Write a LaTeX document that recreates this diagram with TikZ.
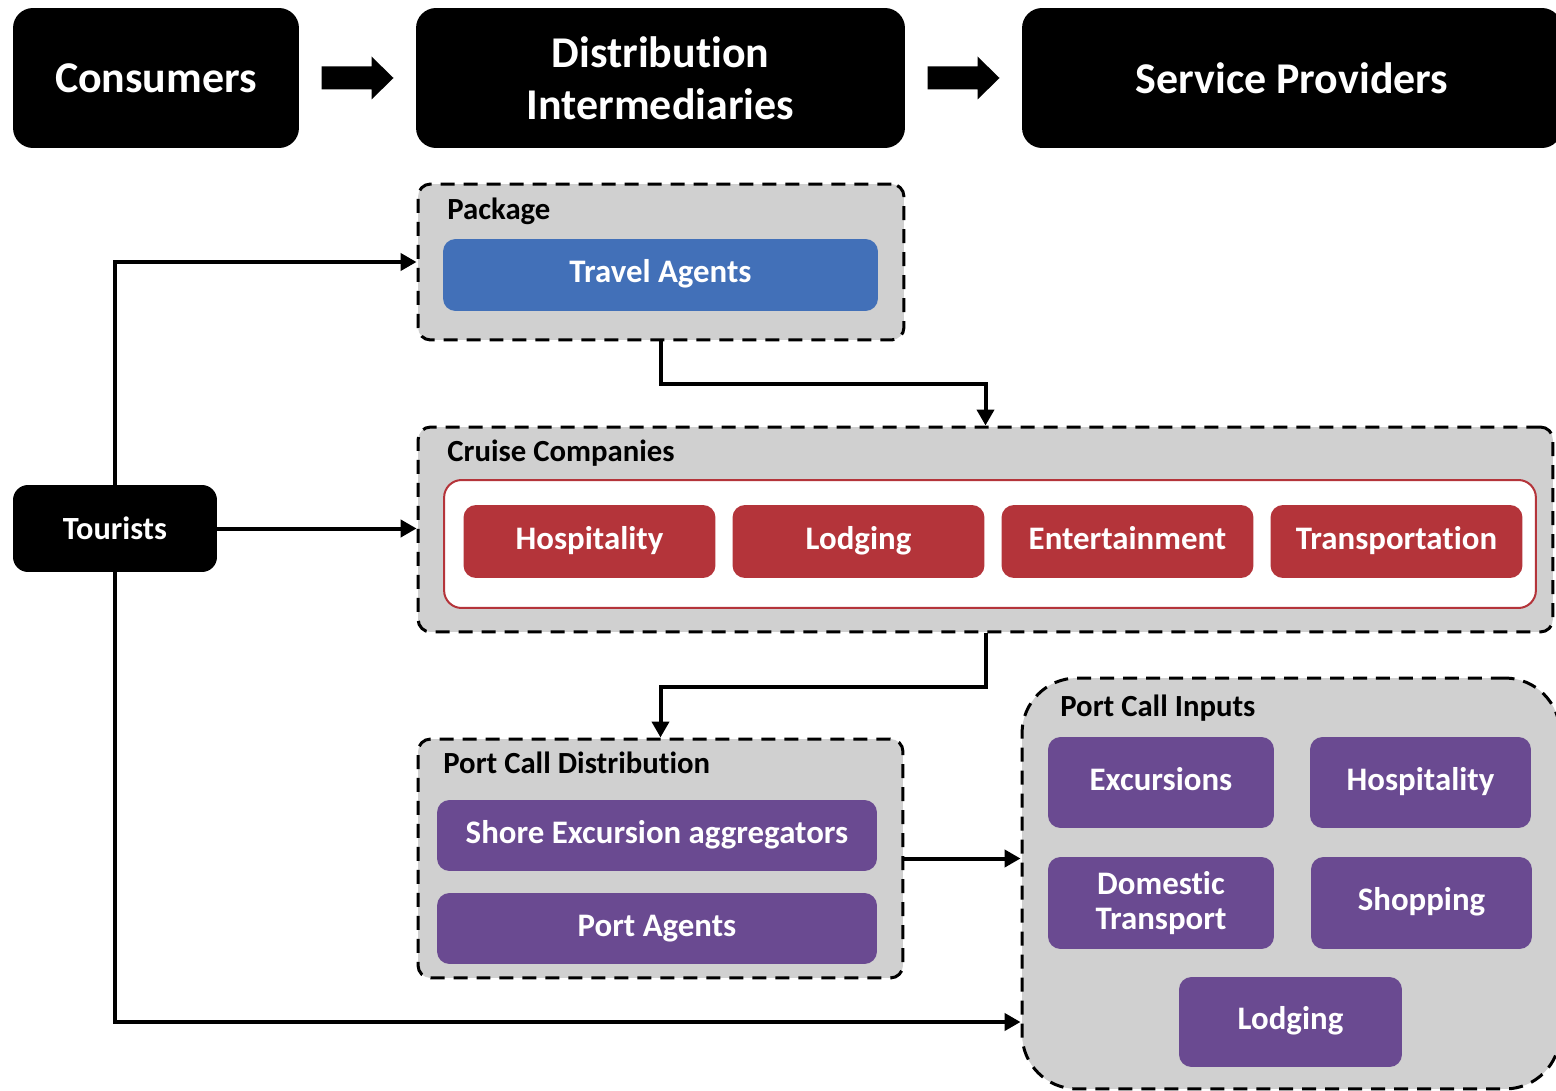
\documentclass[tikz,border=0pt]{standalone}
\usepackage{fontspec}
\setmainfont{Carlito}[Ligatures=NoCommon]
\usetikzlibrary{arrows.meta,calc}
\definecolor{boxgray}{HTML}{D0D0D0}
\definecolor{tblue}{HTML}{4270B8}
\definecolor{cred}{HTML}{B4343A}
\definecolor{ppurple}{HTML}{6A4A91}
\begin{document}
\begin{tikzpicture}[x=0.02cm,y=-0.02cm,
  head/.style={fill=black, rounded corners=0.4cm, text=white, font=\fontsize{25}{29.6}\selectfont\bfseries, align=center, inner sep=0},
  grp/.style={draw=black, fill=boxgray, dash pattern=on 0.28cm off 0.18cm, line width=0.06cm, rounded corners=0.25cm, inner sep=0},
  grplabel/.style={anchor=west, font=\fontsize{17.5}{20}\selectfont\bfseries, inner sep=0},
  itembase/.style={rounded corners=0.25cm, text=white, font=\fontsize{18.7}{22}\selectfont\bfseries, align=center, inner sep=0},
  item/.style={itembase, text height=13pt, text depth=4pt},
  conn/.style={line width=0.08cm, -{Triangle[length=0.32cm,width=0.34cm]}},
]
\useasboundingbox (0,0) rectangle (1556,1091);
\clip (0,0) rectangle (1556,1091);

% header row
\node[head, minimum width=5.72cm, minimum height=2.8cm] (consumers) at (156,78) {Consumers};
\node[head, minimum width=9.78cm, minimum height=2.8cm] (dist) at (660.5,78) {Distribution\\Intermediaries};
\node[head, minimum width=10.8cm, minimum height=2.8cm] (service) at (1292,78) {Service Providers};

\coordinate (a1) at ($(consumers.east)!0.5!(dist.west)$);
\coordinate (a2) at ($(dist.east)!0.5!(service.west)$);
\foreach \c in {a1,a2}{
  \fill[black] (\c) ++(-36,-11.5) -- ++(50,0) -- ++(0,-10) -- ++(22,21.5) -- ++(-22,21.5) -- ++(0,-10) -- ++(-50,0) -- cycle;
}

% Package group
\node[grp, minimum width=9.72cm, minimum height=3.12cm] (package) at (661,262) {};
\node[grplabel] (packagelbl) at (447,211) {Package};
\node[item, fill=tblue, minimum width=8.7cm, minimum height=1.44cm] (travel) at (660.5,275) {Travel Agents};

% Cruise companies group
\node[grp, minimum width=22.7cm, minimum height=4.1cm] (cruise) at (985.5,529.5) {};
\node[grplabel] (cruiselbl) at (447,453) {Cruise Companies};
\node[draw=cred, line width=0.04cm, fill=white, rounded corners=0.35cm, minimum width=21.84cm, minimum height=2.56cm, inner sep=0] (cruiseinner) at (990,544) {};
\node[item, fill=cred, minimum width=5.04cm, minimum height=1.46cm] (chosp) at (589.5,541.5) {Hospitality};
\node[item, fill=cred, minimum width=5.04cm, minimum height=1.46cm] (clodg) at (858.5,541.5) {Lodging};
\node[item, fill=cred, minimum width=5.04cm, minimum height=1.46cm] (cent) at (1127.5,541.5) {Entertainment};
\node[item, fill=cred, minimum width=5.04cm, minimum height=1.46cm] (ctrans) at (1396.5,541.5) {Transportation};

% Port call distribution
\node[grp, minimum width=9.7cm, minimum height=4.78cm] (pcd) at (660.5,858.5) {};
\node[grplabel] (pcdlbl) at (443,763) {Port Call Distribution};
\node[item, fill=ppurple, minimum width=8.8cm, minimum height=1.42cm] (shore) at (657,835.5) {Shore Excursion aggregators};
\node[item, fill=ppurple, minimum width=8.8cm, minimum height=1.42cm] (pagents) at (657,928.5) {Port Agents};

% Port call inputs
\node[grp, rounded corners=1.1cm, minimum width=10.76cm, minimum height=8.22cm] (pci) at (1291,883.5) {};
\node[grplabel] (pcilbl) at (1060,708) {Port Call Inputs};
\node[item, fill=ppurple, minimum width=4.52cm, minimum height=1.82cm] (exc) at (1161,782.5) {Excursions};
\node[item, fill=ppurple, minimum width=4.42cm, minimum height=1.82cm] (phosp) at (1420.5,782.5) {Hospitality};
\node[itembase, fill=ppurple, minimum width=4.52cm, minimum height=1.84cm, font=\fontsize{18.7}{20}\selectfont\bfseries] (dom) at (1161,903) {Domestic\\Transport};
\node[item, fill=ppurple, minimum width=4.42cm, minimum height=1.84cm] (shop) at (1421.5,903) {Shopping};
\node[item, fill=ppurple, minimum width=4.46cm, minimum height=1.8cm] (plodg) at (1290.5,1022) {Lodging};

% Tourists
\node[fill=black, rounded corners=0.3cm, text=white, font=\fontsize{18.4}{22}\selectfont\bfseries, inner sep=0, minimum width=4.08cm, minimum height=1.74cm] (tourists) at (115,528.5) {Tourists};

% connectors
\draw[conn] (package.south) -- ++(0,43) -| (cruise.north);
\draw[conn] (cruise.south) -- ++(0,54) -| (pcd.north);
\draw[conn] (pcd.east) -- (pcd.east -| pci.west);
\draw[conn] (tourists.north) |- (package.west);
\draw[conn] (tourists.east) -- (tourists.east -| cruise.west);
\draw[conn] (tourists.south) |- (plodg -| pci.west);
\end{tikzpicture}
\end{document}
